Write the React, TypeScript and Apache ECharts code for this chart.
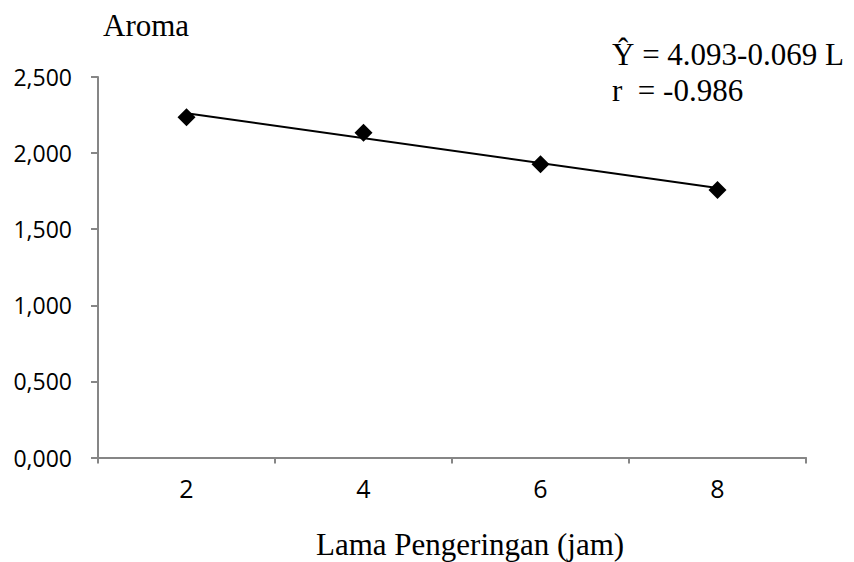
import React, { useEffect, useRef } from "react";
import * as echarts from "echarts";

const categories = ["2", "4", "6", "8"];
const aromaValues = [2.235, 2.134, 1.926, 1.757];
// trend line endpoints (at L = 2 and L = 8)
const trendValues: [number, number][] = [
  [0, 2.262],
  [3, 1.771],
];
const yTicks = { min: 0, max: 2.5, interval: 0.5 };
const titleText = "Aroma";
const xTitle = "Lama Pengeringan (jam)";
const equationLines = ["Ŷ = 4.093-0.069 L", "r\u00a0\u00a0= -0.986"];

export default function App() {
  const ref = useRef<HTMLDivElement>(null);
  useEffect(() => {
    if (!ref.current) return;
    const chart = echarts.init(ref.current, null, { renderer: "svg" });
    const serif = "'Liberation Serif', 'Times New Roman', serif";
    const sans = "'Open Sans', sans-serif";
    chart.setOption({
      animation: false,
      backgroundColor: "#ffffff",
      grid: { left: 98, right: 48, top: 77, bottom: 104.5, containLabel: false },
      xAxis: {
        type: "category",
        data: categories,
        boundaryGap: true,
        axisLine: { lineStyle: { color: "#868686", width: 2 } },
        axisTick: { show: true, length: 6, inside: false, lineStyle: { color: "#868686", width: 2 } },
        axisLabel: { color: "#000", fontSize: 25, fontWeight: 500, fontFamily: sans, margin: 18 },
        splitLine: { show: false },
      },
      yAxis: {
        type: "value",
        min: yTicks.min,
        max: yTicks.max,
        interval: yTicks.interval,
        axisLine: { show: true, lineStyle: { color: "#868686", width: 2 } },
        axisTick: { show: true, length: 7, lineStyle: { color: "#868686", width: 2 } },
        axisLabel: {
          color: "#000",
          fontSize: 23,
          fontWeight: 500,
          fontFamily: sans,
          margin: 26,
          formatter: (v: number) => v.toFixed(3).replace(".", ","),
        },
        splitLine: { show: false },
      },
      graphic: [
        {
          type: "text",
          left: 103,
          top: 10,
          style: { text: titleText, font: `31px ${serif}`, fill: "#000" },
        },
        {
          type: "text",
          left: 612,
          top: 39,
          style: { text: equationLines[0], font: `31px ${serif}`, fill: "#000" },
        },
        {
          type: "text",
          left: 612,
          top: 75,
          style: { text: equationLines[1], font: `31px ${serif}`, fill: "#000" },
        },
        {
          type: "text",
          left: 316,
          top: 529,
          style: { text: xTitle, font: `31px ${serif}`, fill: "#000" },
        },
      ],
      series: [
        {
          type: "line",
          data: trendValues,
          symbol: "none",
          lineStyle: { color: "#000", width: 2 },
          z: 2,
        },
        {
          type: "scatter",
          data: aromaValues,
          symbol: "diamond",
          symbolSize: [18, 18],
          itemStyle: { color: "#000", opacity: 1 },
          z: 3,
        },
      ],
    });
    return () => chart.dispose();
  }, []);
  return <div ref={ref} style={{ width: 854, height: 562, position: "absolute", left: 0, top: 0 }} />;
}
